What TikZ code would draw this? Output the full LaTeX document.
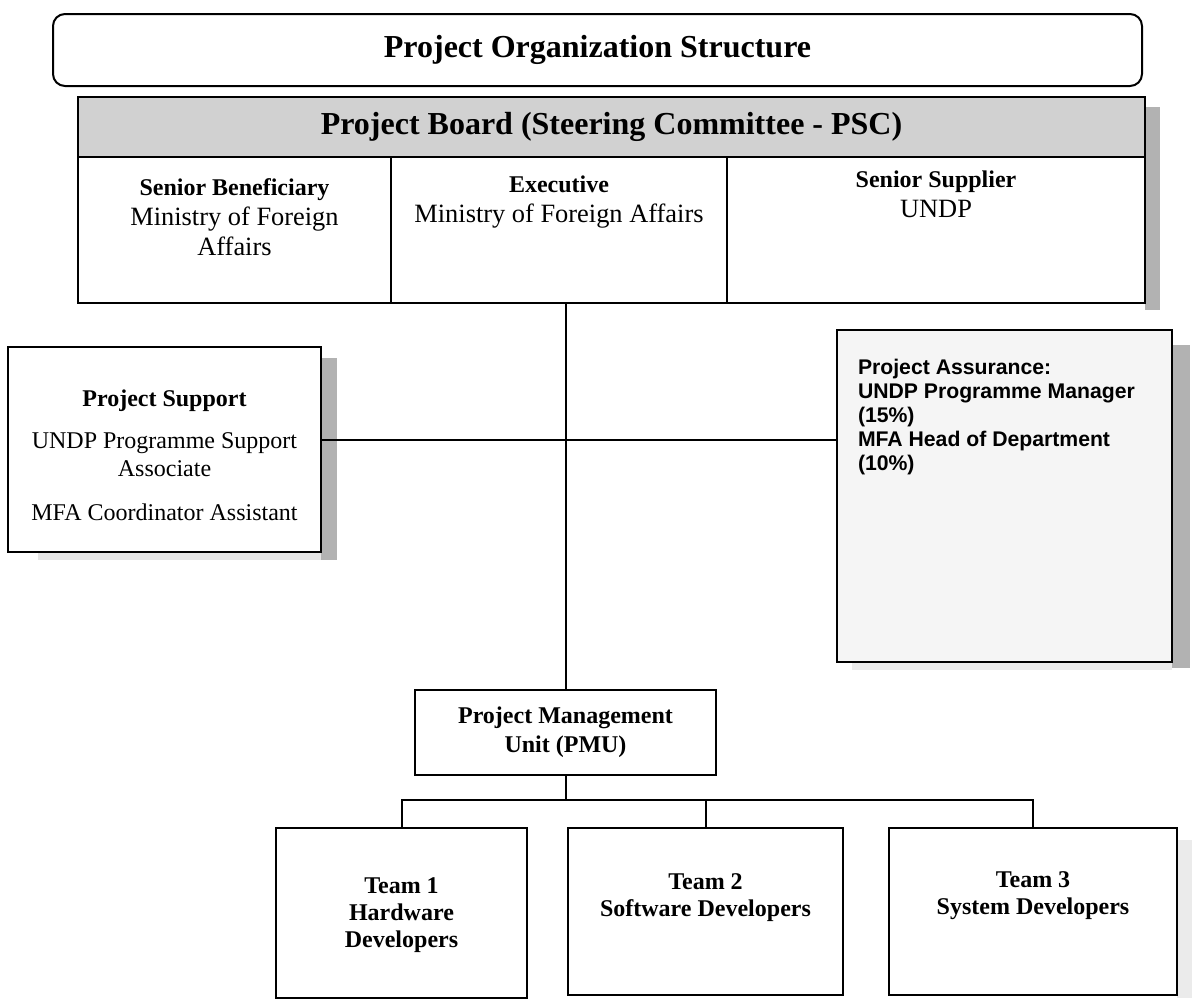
\documentclass[tikz,border=0pt]{standalone}
\usepackage{fontspec}
\setmainfont{Liberation Serif}
\newfontfamily\assurancefont{Liberation Sans}
\usetikzlibrary{positioning}

\newcommand{\rolename}[1]{{\fontsize{12}{15}\selectfont\bfseries #1}}

\tikzset{
  box/.style={draw, line width=1pt, inner sep=0pt},
  bigtitle/.style={font=\fontsize{16}{19}\selectfont\bfseries},
  coltext/.style={align=center, inner sep=0pt, font=\fontsize{13.2}{15}\selectfont},
  teamtext/.style={align=center, inner sep=0pt, font=\fontsize{12}{13.5}\selectfont\bfseries},
}

\begin{document}
\begin{tikzpicture}[x=0.5pt, y=-0.5pt, line width=1pt]
\useasboundingbox (0,0) rectangle (1194,1001);
% title
\node[box, rounded corners=6pt, minimum width=544.5pt, minimum height=36pt, bigtitle] (title) at (597.5,50) {Project Organization Structure};
% board header and its three columns
\fill[black!30] (1145,107) rectangle (1160,310);
\node[box, fill=black!18, minimum width=533.5pt, minimum height=30pt, bigtitle] (board) at (611.5,127) {Project Board (Steering Committee - PSC)};
\node[box, minimum width=156.5pt, minimum height=73pt] (benef) at (234.5,230) {};
\node[box, minimum width=168pt, minimum height=73pt] (exec) at (559,230) {};
\node[box, minimum width=209pt, minimum height=73pt] (supplier) at (936,230) {};
\node[coltext, below=11pt of benef.north] {\rolename{Senior Beneficiary}\\ Ministry of Foreign\\ Affairs};
\node[coltext, below=9.5pt of exec.north] {\rolename{Executive}\\ Ministry of Foreign Affairs};
\node[coltext, below=7pt of supplier.north] {\rolename{Senior Supplier}\\ UNDP};
% support (left) and assurance (right)
\fill[black!30] (321,358) rectangle (337,560);
\fill[black!10] (38,552) rectangle (321,560);
\node[box, minimum width=156.5pt, minimum height=102.5pt] (support) at (164.5,449.5) {};
\node[below=21.5pt of support.north, align=center, inner sep=0pt, font=\fontsize{12}{14}\selectfont]
  {\rolename{Project Support}\\[7pt] UNDP Programme Support\\ Associate\\[8pt] MFA Coordinator Assistant};
\fill[black!30] (1172,345) rectangle (1190,668);
\fill[black!8] (852,662) rectangle (1172,670);
\node[box, fill=black!4, minimum width=167.5pt, minimum height=166pt] (assurance) at (1004.5,496) {};
\node[below right=14.5pt and 10.5pt of assurance.north west, anchor=north west, align=left, inner sep=0pt,
  font=\assurancefont\bfseries\fontsize{10.6}{12}\selectfont]
  {Project Assurance:\\ UNDP Programme Manager\\ (15\%)\\ MFA Head of Department\\ (10\%)};
% management unit and teams
\node[box, minimum width=150.5pt, minimum height=42.5pt, align=center, font=\fontsize{12}{14.5}\selectfont\bfseries] (pmu) at (565.5,732.5)
  {Project Management\\ Unit (PMU)};
\fill[black!8] (1177,840) rectangle (1192,998);
\node[box, minimum width=125.5pt, minimum height=85pt] (team1) at (401.5,913) {};
\node[box, minimum width=137.5pt, minimum height=83.5pt] (team2) at (705.5,911.5) {};
\node[box, minimum width=144pt, minimum height=83.5pt] (team3) at (1033,911.5) {};
\node[teamtext, below=25pt of team1.north] {Team 1\\ Hardware\\ Developers};
\node[teamtext, below=23pt of team2.north] {Team 2\\ Software Developers};
\node[teamtext, below=22pt of team3.north] {Team 3\\ System Developers};
% connectors
\coordinate (hub) at (563,440);
\coordinate (bus) at (565.5,800);
\draw (pmu.north) -- (pmu.north |- exec.south);
\draw (support.east |- hub) -- (assurance.west |- hub);
\draw (pmu.south) -- (bus);
\draw (team1.north) |- (bus) -| (team3.north);
\draw (team2.north) -- (team2.north |- bus);
\end{tikzpicture}
\end{document}
